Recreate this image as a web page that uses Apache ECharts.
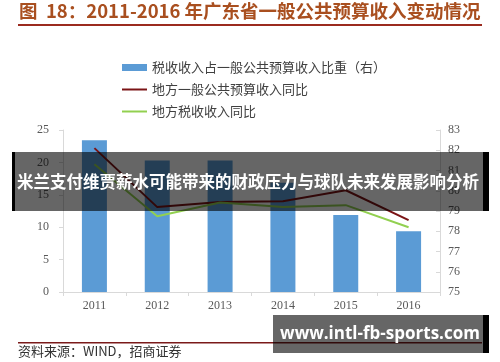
<!DOCTYPE html>
<html><head><meta charset="utf-8">
<script src="https://cdn.jsdelivr.net/npm/echarts@6/dist/echarts.min.js"></script>
<style>html,body{margin:0;padding:0;background:#fff}#c{width:500px;height:362px}</style>
</head><body><div id="c"></div>
<script>
const categories = ['2011','2012','2013','2014','2015','2016'];
const taxShare = [82.5, 81.5, 81.5, 80.4, 78.8, 78.0];
const budgetYoY = [22.2, 13.1, 13.9, 14.0, 15.7, 11.1];
const taxYoY = [19.7, 11.7, 13.8, 13.1, 13.4, 10.0];
const seriesNames = ['税收收入占一般公共预算收入比重（右）','地方一般公共预算收入同比','地方税收收入同比'];
const titleText = '图  18：2011-2016 年广东省一般公共预算收入变动情况';
const sourceText = '资料来源：WIND，招商证券';
const bannerText = '米兰支付维贾薪水可能带来的财政压力与球队未来发展影响分析';
const urlText = 'www.intl-fb-sports.com';

const chart = echarts.init(document.getElementById('c'));
const serif = 'Liberation Serif';
const cjk = 'Noto Sans CJK SC';
chart.setOption({
  animation: false,
  grid: {left: 63, right: 60, top: 130, bottom: 70},
  legend: {
    orient: 'vertical', left: 116, top: 56, itemWidth: 25, itemHeight: 7, itemGap: 9,
    textStyle: {fontFamily: cjk, fontSize: 13, color: '#404040'},
    data: [
      {name: seriesNames[0], icon: 'rect'},
      {name: seriesNames[1], itemStyle: {opacity: 0}},
      {name: seriesNames[2], itemStyle: {opacity: 0}}
    ]
  },
  xAxis: {
    type: 'category', data: categories,
    axisLine: {lineStyle: {color: '#d9d9d9'}},
    axisTick: {show: true, length: 4, lineStyle: {color: '#d9d9d9'}},
    axisLabel: {fontFamily: serif, fontSize: 12, color: '#595959', margin: 8}
  },
  yAxis: [
    {type: 'value', min: 0, max: 25, interval: 5, splitLine: {show: false},
     axisLine: {show: true, lineStyle: {color: '#d9d9d9'}},
     axisTick: {show: true, length: 4, lineStyle: {color: '#d9d9d9'}},
     axisLabel: {fontFamily: serif, fontSize: 12, color: '#595959', margin: 14}},
    {type: 'value', min: 75, max: 83, interval: 1, splitLine: {show: false}, position: 'right',
     axisLine: {show: true, lineStyle: {color: '#d9d9d9'}},
     axisTick: {show: true, length: 4, inside: true, lineStyle: {color: '#d9d9d9'}},
     axisLabel: {fontFamily: serif, fontSize: 12, color: '#595959', margin: 8}}
  ],
  series: [
    {name: seriesNames[0], type: 'bar', yAxisIndex: 1, data: taxShare, barWidth: 25,
     itemStyle: {color: '#5b9bd5'}},
    {name: seriesNames[1], type: 'line', yAxisIndex: 0, data: budgetYoY, symbol: 'none',
     lineStyle: {color: '#7b1416', width: 2}, itemStyle: {color: '#7b1416'}},
    {name: seriesNames[2], type: 'line', yAxisIndex: 0, data: taxYoY, symbol: 'none',
     lineStyle: {color: '#92d050', width: 2}, itemStyle: {color: '#92d050'}}
  ],
  graphic: [
    {type: 'text', left: 19, top: 2, style: {text: titleText, fontFamily: cjk, fontSize: 18.5, fontWeight: 'bold', fill: '#a94f1f'}},
    {type: 'rect', shape: {x: 18, y: 24, width: 464, height: 2}, style: {fill: '#9b2b1f'}},
    {type: 'rect', shape: {x: 18, y: 342, width: 464, height: 1.5}, style: {fill: '#7b1a1a'}},
    {type: 'text', left: 18, top: 345, style: {text: sourceText, fontFamily: cjk, fontSize: 13, fill: '#333'}},
    {type: 'rect', z: 100, shape: {x: 12, y: 152, width: 472, height: 59}, style: {fill: 'rgba(0,0,0,0.6)'}},
    {type: 'rect', z: 101, shape: {x: 12, y: 152, width: 3, height: 59}, style: {fill: '#000'}},
    {type: 'rect', z: 101, shape: {x: 483, y: 152, width: 6, height: 59}, style: {fill: '#000'}},
    {type: 'text', z: 102, x: 248, y: 182, style: {text: bannerText, fontFamily: cjk, fontSize: 16.5, fontWeight: 'bold', fill: '#fff', align: 'center', verticalAlign: 'middle'}},
    {type: 'rect', z: 100, shape: {x: 273, y: 315, width: 211, height: 38}, style: {fill: 'rgba(0,0,0,0.6)'}},
    {type: 'rect', z: 101, shape: {x: 483, y: 315, width: 6, height: 38}, style: {fill: '#000'}},
    {type: 'text', z: 102, x: 380, y: 334, style: {text: urlText, fontFamily: 'Open Sans', fontSize: 17, fontWeight: 'bold', fill: '#fff', align: 'center', verticalAlign: 'middle'}}
  ]
});
</script></body></html>
